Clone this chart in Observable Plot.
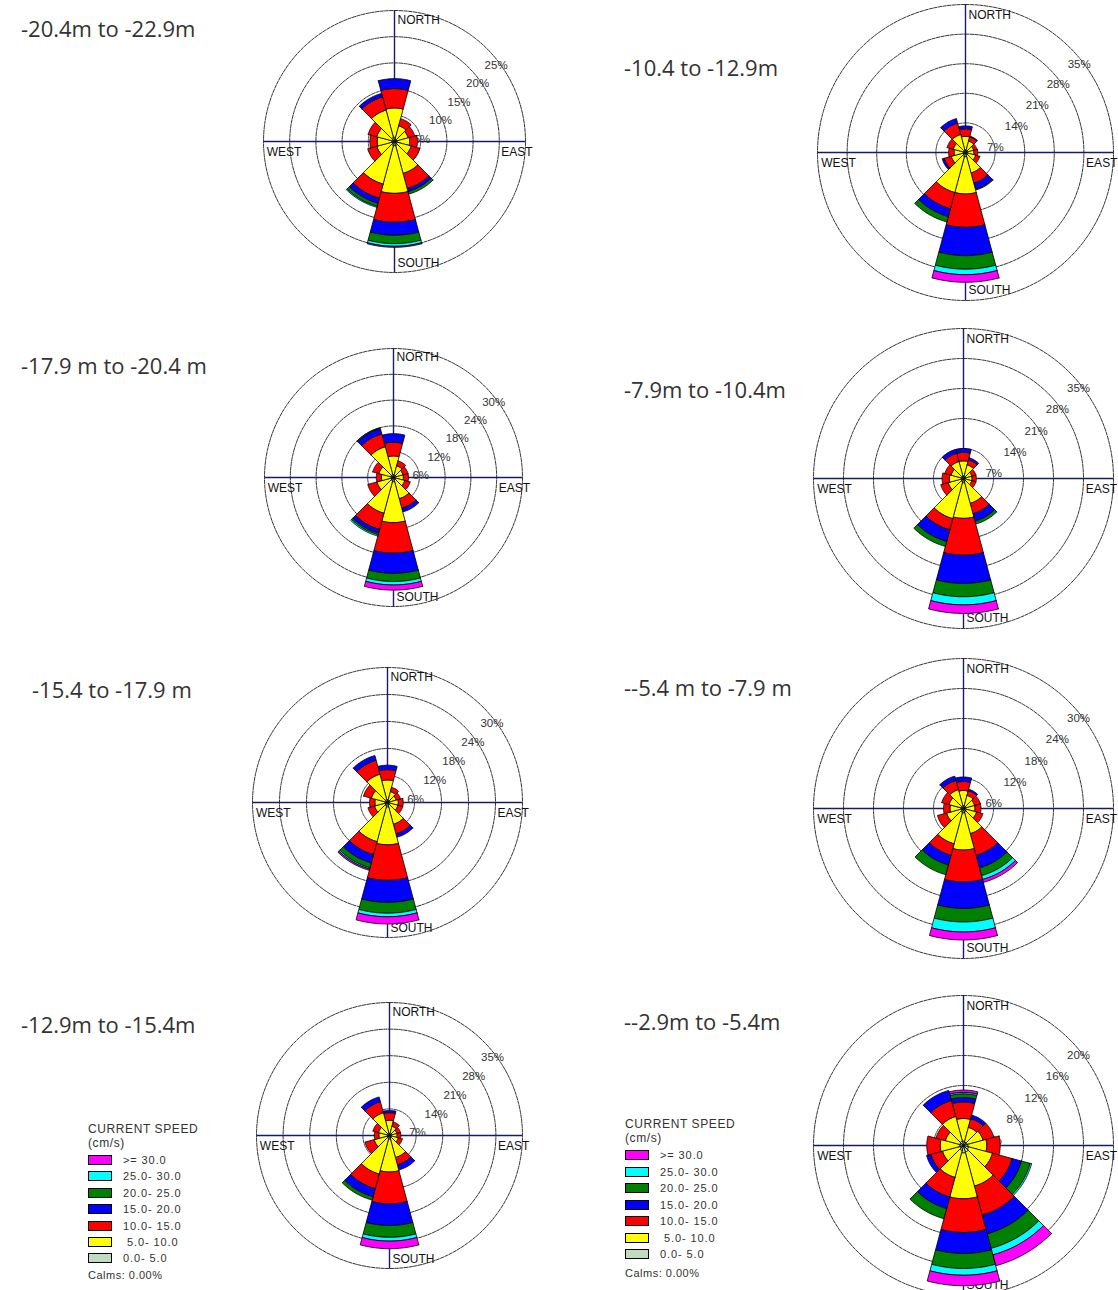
<!DOCTYPE html>
<html><head><meta charset="utf-8">
<script src="https://cdn.jsdelivr.net/npm/d3@7"></script>
<script src="https://cdn.jsdelivr.net/npm/@observablehq/plot@0.6"></script>
<style>
html,body{margin:0;padding:0;background:#fff;overflow:hidden;}
#page{position:relative;width:1118px;height:1290px;overflow:hidden;background:#fff;}
.title{position:absolute;font-family:"Open Sans",sans-serif;font-size:22px;color:#333;white-space:nowrap;line-height:26px;}
.rose{position:absolute;}
.legend{position:absolute;font-family:"Liberation Sans",Arial,sans-serif;color:#333;font-size:10.5px;}
.legend div{position:absolute;white-space:nowrap;line-height:12px;}
.sw{width:22px;height:8px;border:1px solid #000;}
</style></head><body><div id="page"></div>
<script>
// ---- data ----
const directions = [0, 30, 60, 90, 120, 150, 180, 210, 240, 270, 300, 330];
const speedBins = [">= 30.0", "25.0- 30.0", "20.0- 25.0", "15.0- 20.0", "10.0- 15.0", " 5.0- 10.0", "0.0- 5.0"]; // legend order (top to bottom)
const binColors = ["#c0dcc0", "#ffff00", "#ff0000", "#0000ff", "#008000", "#00ffff", "#ff00ff"]; // 0-5 ... >=30

const titles = ["-20.4m to -22.9m", "-10.4 to -12.9m", "-17.9 m to -20.4 m", "-7.9m to -10.4m",
                "-15.4 to -17.9 m", "--5.4 m to -7.9 m", "-12.9m to -15.4m", "--2.9m to -5.4m"];

const ticks1 = [5, 10, 15, 20, 25];
const ticks2 = [7, 14, 21, 28, 35];
const ticks3 = [6, 12, 18, 24, 30];
const ticks4 = [7, 14, 21, 28, 35];
const ticks5 = [6, 12, 18, 24, 30];
const ticks6 = [6, 12, 18, 24, 30];
const ticks7 = [7, 14, 21, 28, 35];
const ticks8 = [4, 8, 12, 16, 20];

// percent per direction, bins: 0-5, 5-10, 10-15, 15-20, 20-25, 25-30, >=30
const rose1 = [
  [0.8,5.6,3.7,1.9,0,0,0],[0.5,2.6,1.4,0,0,0,0],[0.5,2.2,1.3,0,0,0,0],[0.5,2.4,1.5,0,0,0,0],
  [0.5,2.8,1.7,0,0,0,0],[0.8,5.5,3.0,0.6,0.5,0,0],[0.8,9.1,5.5,2.5,1.6,0.5,0.2],[0.8,7.6,2.8,1.0,0.6,0.2,0],
  [0.5,3.0,1.8,0,0,0,0],[0.5,2.8,1.4,0,0,0,0],[0.5,3.0,1.7,0,0,0,0],[0.8,5.4,2.6,0.7,0,0,0]];
const rose2 = [
  [0.6,3.2,1.8,0.7,0,0,0],[0.5,2.3,1.0,0.2,0,0,0],[0.4,1.6,0.8,0,0,0,0],[0.4,1.6,0.9,0,0,0,0],
  [0.5,2.0,1.0,0,0,0,0],[0.7,4.3,2.5,1.5,0.2,0,0],[1.0,8.8,7.9,6.7,3.2,1.3,1.8],[1.0,8.8,4.0,1.9,1.3,0,0],
  [0.5,3.0,1.7,0.5,0,0,0],[0.5,2.2,1.3,0,0,0,0],[0.5,2.5,1.5,0,0,0,0],[0.6,3.8,2.8,1.1,0,0,0]];
const rose3 = [
  [0.7,4.3,3.2,2.0,0,0,0],[0.5,2.3,1.2,0,0,0,0],[0.4,1.9,1.2,0,0,0,0],[0.4,1.9,1.2,0,0,0,0],
  [0.5,2.2,1.3,0,0,0,0],[0.6,4.5,2.3,0.9,0,0,0],[1.0,9.5,7.1,4.7,1.9,0.8,1.2],[0.8,7.8,3.9,0.9,0.4,0.3,0],
  [0.5,3.5,2.2,0,0,0,0],[0.5,2.3,1.2,0,0,0,0],[0.5,3.0,1.5,0,0,0,0],[0.7,6.7,3.1,1.3,0.2,0,0]];
const rose4 = [
  [0.6,3.5,2.0,0.9,0,0,0],[0.5,2.8,1.2,0.5,0,0,0],[0.4,1.6,1.0,0,0,0,0],[0.4,1.6,1.0,0,0,0,0],
  [0.4,1.6,1.0,0,0,0,0],[0.7,5.3,2.5,1.8,0.7,0,0],[1.0,8.3,8.6,6.6,3.1,1.9,2.0],[0.8,8.9,2.7,2.8,1.2,0,0],
  [0.5,3.2,1.8,0,0,0,0],[0.5,2.8,1.7,0,0,0,0],[0.5,2.5,1.5,0,0,0,0],[0.6,3.5,2.0,0.9,0,0,0]];
const rose5 = [
  [0.6,4.4,2.3,1.0,0,0,0],[0.5,2.0,1.0,0,0,0,0],[0.4,1.6,1.0,0,0,0,0],[0.4,2.0,1.1,0,0,0,0],
  [0.4,2.0,1.1,0,0,0,0],[0.6,4.4,2.2,0.8,0,0,0],[1.0,8.4,7.9,4.9,2.4,0.8,1.6],[0.8,8.2,3.0,1.9,1.1,0.3,0.3],
  [0.5,2.5,1.5,0,0,0,0],[0.5,2.3,1.2,0,0,0,0],[0.5,3.2,1.8,0,0,0,0],[0.7,5.8,3.2,1.1,0,0,0]];
const rose6 = [
  [0.6,3.0,1.8,0.9,0,0,0],[0.5,2.2,1.0,0.3,0,0,0],[0.4,1.9,1.2,0,0,0,0],[0.4,1.9,1.2,0,0,0,0],
  [0.5,2.2,1.3,0,0,0,0],[0.7,4.5,4.5,2.6,1.6,0.8,0.6],[0.9,7.4,6.4,5.3,2.7,2.0,1.6],[0.8,6.5,2.4,2.0,2.0,0,0],
  [0.5,3.0,1.9,0,0,0,0],[0.5,2.2,1.3,0,0,0,0],[0.5,2.5,1.5,0,0,0,0],[0.6,3.3,1.9,0.9,0,0,0]];
const rose7 = [
  [0.5,3.5,2.0,0.6,0,0,0],[0.5,2.0,1.2,0,0,0,0],[0.4,1.6,1.0,0,0,0,0],[0.4,1.6,1.0,0,0,0,0],
  [0.5,1.9,1.1,0,0,0,0],[0.6,5.4,2.0,1.4,0,0,0],[1.0,8.6,8.4,5.7,3.1,1.0,2.0],[0.8,9.7,4.0,2.2,0.9,0,0],
  [0.5,3.7,2.5,0,0,0,0],[0.5,2.3,1.2,0,0,0,0],[0.5,2.5,1.5,0,0,0,0],[0.7,5.5,3.0,1.3,0,0,0]];
const rose8 = [
  [0.6,3.0,2.2,0.6,0.5,0.2,0.3],[0.5,2.0,1.2,0.5,0,0,0],[0.5,2.2,1.5,0,0,0,0],[0.6,2.5,1.8,0,0,0,0],
  [0.7,3.3,2.7,1.3,1.2,0.2,0],[0.9,4.7,4.0,2.6,2.0,0.9,1.5],[1.0,6.1,4.5,2.8,2.0,0.9,1.4],[0.7,3.7,2.7,1.6,1.4,0,0],
  [0.5,2.4,1.6,0.6,0,0,0],[0.5,2.6,1.8,0,0,0,0],[0.5,2.0,1.3,0,0,0,0],[0.6,3.4,2.2,1.4,0,0,0]];

// ---- layout (pixels) ----
const layout = [
  {cx:394, cy:141, R:131, tx:21, ty:29},
  {cx:965, cy:152, R:148, tx:624, ty:68},
  {cx:393, cy:477, R:129, tx:21, ty:366},
  {cx:963, cy:478, R:150, tx:624, ty:390},
  {cx:387, cy:802, R:135, tx:32, ty:690},
  {cx:963, cy:808, R:150, tx:624, ty:688},
  {cx:389, cy:1135, R:133, tx:21, ty:1025},
  {cx:963, cy:1145, R:150, tx:624, ty:1022}
];
const roses = [rose1, rose2, rose3, rose4, rose5, rose6, rose7, rose8];
const tickSets = [ticks1, ticks2, ticks3, ticks4, ticks5, ticks6, ticks7, ticks8];

const page = document.getElementById("page");
const rad = Math.PI / 180;
const half = 15;

function drawRose(values, ticks, L) {
  const max = ticks[ticks.length - 1];
  const pad = 28;
  const size = 2 * (L.R + pad);
  const ext = max * (L.R + pad) / L.R;
  const polys = [];
  values.forEach((row, i) => {
    const th = directions[i];
    let cum = 0;
    row.forEach((v, j) => {
      if (!(v > 0)) return;
      const r0 = cum, r1 = cum + v; cum = r1;
      const id = i * 10 + j;
      const pts = [];
      const n = 12;
      for (let k = 0; k <= n; k++) { const a = (th - half + 2 * half * k / n) * rad; pts.push([r1 * Math.sin(a), r1 * Math.cos(a)]); }
      for (let k = n; k >= 0; k--) { const a = (th - half + 2 * half * k / n) * rad; pts.push([r0 * Math.sin(a), r0 * Math.cos(a)]); }
      pts.push(pts[0]);
      pts.forEach(p => polys.push({id, bin: j, x: p[0], y: p[1]}));
    });
  });
  const rings = [];
  ticks.forEach(t => { for (let k = 0; k <= 180; k++) { const a = k * 2 * rad; rings.push({t, x: t * Math.sin(a), y: t * Math.cos(a)}); } });
  const axes = [{x1: -max, y1: 0, x2: max, y2: 0}, {x1: 0, y1: -max, x2: 0, y2: max}];
  const vertLabels = [
    {label: "NORTH", x: 0, y: max * 0.93},
    {label: "SOUTH", x: 0, y: -max * 0.93}
  ];
  const horizLabels = [
    {label: "WEST", x: -max * 0.975, y: 0},
    {label: "EAST", x: max * 0.815, y: 0}
  ];
  const svg = Plot.plot({
    width: size, height: size, margin: 0,
    style: {fontFamily: "'Liberation Sans', Arial, sans-serif", overflow: "visible", background: "transparent"},
    x: {domain: [-ext, ext], axis: null},
    y: {domain: [-ext, ext], axis: null},
    color: {type: "ordinal", domain: d3.range(7), range: binColors},
    marks: [
      Plot.line(rings, {x: "x", y: "y", z: "t", stroke: "#1e1e1e", strokeWidth: 0.9, strokeDasharray: "3.5,1.2"}),
      Plot.link(axes, {x1: "x1", y1: "y1", x2: "x2", y2: "y2", stroke: "#1b1b63", strokeWidth: 1.4}),
      Plot.text(ticks, {x: t => t * Math.SQRT1_2, y: t => t * Math.SQRT1_2, text: t => t + "%", dx: 9, dy: 16, fontSize: 11.5, fill: "#333"}),
      Plot.text(vertLabels, {x: "x", y: "y", text: "label", textAnchor: "start", dx: 3, dy: 0, fontSize: 12, fill: "#111"}),
      Plot.text(horizLabels, {x: "x", y: "y", text: "label", textAnchor: "start", dx: 0, dy: 11, fontSize: 12, fill: "#111"}),
      Plot.line(polys, {x: "x", y: "y", z: "id", fill: "bin", stroke: "#000", strokeWidth: 0.8})
    ]
  });
  svg.classList.add("rose");
  svg.style.left = (L.cx - L.R - pad) + "px";
  svg.style.top = (L.cy - L.R - pad) + "px";
  svg.style.position = "absolute";
  page.appendChild(svg);
}

roses.forEach((vals, i) => {
  const L = layout[i];
  drawRose(vals, tickSets[i], L);
  const t = document.createElement("div");
  t.className = "title";
  t.textContent = titles[i];
  t.style.left = L.tx + "px";
  t.style.top = (L.ty - 14) + "px";
  page.appendChild(t);
});

// legends
const legendColors = binColors.slice().reverse();
function legend(x, y0, rowY0, step, calmY) {
  const g = document.createElement("div");
  g.className = "legend";
  g.style.left = x + "px"; g.style.top = "0px";
  page.appendChild(g);
  const add = (txt, lx, ly, extra) => { const d = document.createElement("div"); d.textContent = txt; d.style.left = lx + "px"; d.style.top = (ly - 6) + "px"; if (extra) Object.assign(d.style, extra); g.appendChild(d); };
  add("CURRENT SPEED", 0, y0, {letterSpacing: "0.6px", fontSize: "12px"});
  add("(cm/s)", 0, y0 + 14, {letterSpacing: "0.6px", fontSize: "12px"});
  speedBins.forEach((s, i) => {
    const yy = rowY0 + i * step;
    const sw = document.createElement("div");
    sw.className = "sw";
    sw.style.left = "0px"; sw.style.top = (yy - 5) + "px";
    sw.style.background = legendColors[i];
    g.appendChild(sw);
    add(s, 35, yy, {letterSpacing: "0.9px", whiteSpace: "pre", fontSize: "11px"});
  });
  add("Calms: 0.00%", 0, calmY, {letterSpacing: "0.5px", fontSize: "11px"});
}
legend(88, 1129, 1160, 16.4, 1275);
legend(625, 1124, 1155, 16.5, 1273);
</script></body></html>
